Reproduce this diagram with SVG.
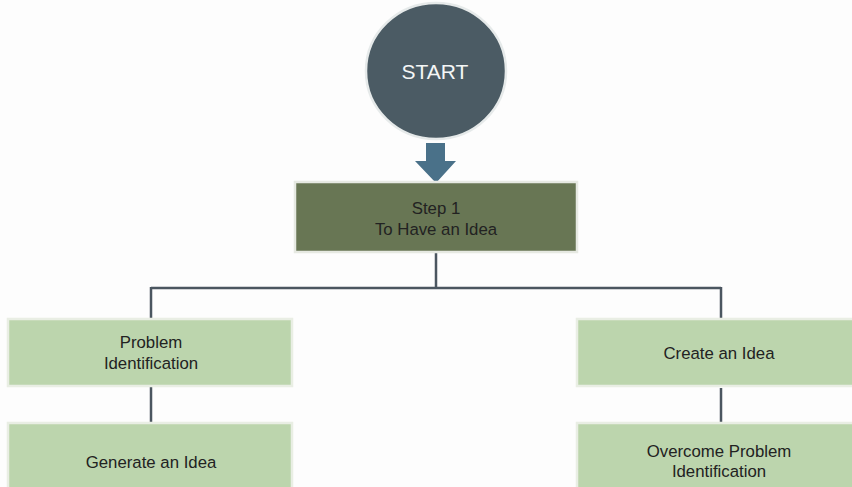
<svg xmlns="http://www.w3.org/2000/svg" width="852" height="487" viewBox="0 0 852 487">
  <style>
    .lbl { font-family: "Liberation Sans", Arial, sans-serif; font-size: 16.8px; fill: #222; text-anchor: middle; }
    .start { font-family: "Liberation Sans", Arial, sans-serif; font-size: 21px; fill: #f4f6f6; text-anchor: middle; }
    .leaf { fill: #bcd5ad; stroke: #e9eee4; stroke-width: 2.5; }
    .wire { fill: none; stroke: #4b5660; stroke-width: 2.5; }
  </style>
  <rect width="852" height="487" fill="#fdfdfd"/>

  <g id="start">
    <ellipse cx="436" cy="71" rx="70" ry="68" fill="#4b5b64" stroke="#e6eaea" stroke-width="2.5"/>
    <text class="start" x="435" y="79">START</text>
  </g>

  <g id="connectors">
    <!-- block arrow from START to Step 1 -->
    <polygon points="426,143 445,143 445,161 456,161 436,183 415,161 426,161" fill="#4a7189"/>
    <!-- tree from Step 1 to its two branches -->
    <path class="wire" d="M436,252 V288 M151,288 H721 M151,287 V320 M721,287 V320"/>
    <path class="wire" d="M151,386 V423 M721,388 V424"/>
  </g>

  <g id="step1">
    <rect x="295" y="182" width="282" height="70" fill="#687654" stroke="#e6e9e2" stroke-width="2.5"/>
    <text class="lbl" x="436" y="214">Step 1</text>
    <text class="lbl" x="436" y="235">To Have an Idea</text>
  </g>

  <g id="problem-identification">
    <rect class="leaf" x="8" y="319" width="284" height="67"/>
    <text class="lbl" x="151" y="348">Problem</text>
    <text class="lbl" x="151" y="369">Identification</text>
  </g>

  <g id="generate-idea">
    <rect class="leaf" x="8" y="423" width="284" height="70"/>
    <text class="lbl" x="151" y="468">Generate an Idea</text>
  </g>

  <g id="create-idea">
    <rect class="leaf" x="577" y="319" width="285" height="67"/>
    <text class="lbl" x="719" y="359">Create an Idea</text>
  </g>

  <g id="overcome-problem">
    <rect class="leaf" x="577" y="423" width="285" height="70"/>
    <text class="lbl" x="719" y="457">Overcome Problem</text>
    <text class="lbl" x="719" y="477">Identification</text>
  </g>
</svg>
